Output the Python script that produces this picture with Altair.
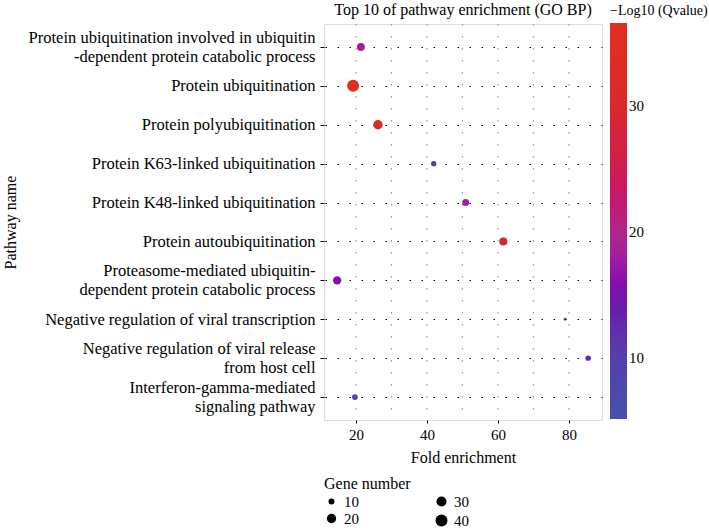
import altair as alt
import pandas as pd

pathways = [
    "Protein ubiquitination involved in ubiquitin|-dependent protein catabolic process",
    "Protein ubiquitination",
    "Protein polyubiquitination",
    "Protein K63-linked ubiquitination",
    "Protein K48-linked ubiquitination",
    "Protein autoubiquitination",
    "Proteasome-mediated ubiquitin-|dependent protein catabolic process",
    "Negative regulation of viral transcription",
    "Negative regulation of viral release|from host cell",
    "Interferon-gamma-mediated|signaling pathway",
]
fold = [21.4, 19.2, 26.2, 41.9, 50.9, 61.5, 14.7, 78.9, 85.4, 19.7]
qval = [18, 36, 33, 11, 18.5, 29, 16, 10, 12.5, 8]
genes = [20, 40, 27, 12, 17, 21, 22, 7, 12, 13]
grid_x = [20, 30, 40, 50, 60, 70, 80]
x_ticks = [20, 40, 60, 80]
color_ticks = [10, 20, 30]
size_ticks_a = [10, 20]
size_ticks_b = [30, 40]

FONT = "Liberation Serif"

df = pd.DataFrame({"pathway": pathways, "fold": fold, "q": qval, "genes": genes})
gdf = pd.DataFrame({"g": grid_x})

xscale = alt.Scale(domain=[11, 89.3], nice=False, zero=False)
xaxis = alt.Axis(values=x_ticks, grid=False, domain=False, tickSize=3,
                 tickColor="black", labelFontSize=15, labelFont=FONT,
                 labelColor="black", labelPadding=4, titleFont=FONT,
                 titleFontSize=16, titleFontWeight="normal", titleColor="black",
                 titlePadding=7)
yaxis = alt.Axis(labelExpr="split(datum.label, '|')", labelLineHeight=19,
                 labelOffset=alt.condition("indexof(datum.value, '|') >= 0",
                                           alt.value(-9.5), alt.value(0)),
                 labelFontSize=16.5, labelFont=FONT, labelColor="black",
                 labelLimit=400, labelPadding=5, tickSize=4, tickColor="black",
                 domain=False, grid=True, gridColor="black",
                 gridDash=[1.5, 10.5], gridDashOffset=11, gridWidth=1.2,
                 titleFont=FONT, titleFontSize=16, titleFontWeight="normal",
                 titleColor="black", titleX=-314, titleY=198, titleAngle=270,
                 titleAlign="center", titleBaseline="middle")
size_scale = alt.Scale(domain=[5, 40], range=[0, 143], zero=False)


def size_legend(values, title, x, y):
    kw = dict(orient="none", legendX=x, legendY=y, values=values, rowPadding=1,
              symbolFillColor="black", symbolStrokeColor="black",
              symbolOpacity=1, symbolType="circle", labelFont=FONT,
              labelFontSize=15, labelColor="black", labelOffset=5)
    if title:
        kw.update(titleFont=FONT, titleFontSize=16, titleFontWeight="normal",
                  titleColor="black", titlePadding=2)
    return alt.Legend(**kw)


grid = alt.Chart(gdf).mark_rule(color="#9a9a9a", strokeDash=[1.5, 10.5], strokeWidth=1.2).encode(
    x=alt.X("g:Q", scale=xscale, axis=xaxis, title="Fold enrichment")
)

points = alt.Chart(df).mark_circle(opacity=1).encode(
    x=alt.X("fold:Q", scale=xscale, title="Fold enrichment", axis=xaxis),
    y=alt.Y("pathway:N", sort=pathways, title="Pathway name",
            scale=alt.Scale(type="point", padding=0.59), axis=yaxis),
    color=alt.Color("q:Q", title="\u2212Log10 (Qvalue)",
                    scale=alt.Scale(domain=[5.2, 10, 14.8, 17.5, 20, 25, 30, 36.6],
                                    range=["#4552A8", "#5540AC", "#7008A8", "#9C1CA8",
                                           "#B2268A", "#CB2050", "#D82A2C", "#E1301E"]),
                    legend=alt.Legend(orient="none", legendX=286, legendY=-20,
                                      values=color_ticks, gradientLength=396,
                                      gradientThickness=17, titleFont=FONT,
                                      titleFontSize=14, titleFontWeight="normal",
                                      titleColor="black", titlePadding=5,
                                      labelFont=FONT, labelFontSize=15,
                                      labelColor="black", titleLimit=200)),
    size=alt.Size("genes:Q", title="Gene number", scale=size_scale,
                  legend=size_legend(size_ticks_a, True, 0, 452)),
)

points_b = alt.Chart(df).mark_circle(opacity=0, color="black").encode(
    x=alt.X("fold:Q", scale=xscale, title="Fold enrichment", axis=xaxis),
    y=alt.Y("pathway:N", sort=pathways, title="Pathway name",
            scale=alt.Scale(type="point", padding=0.59), axis=yaxis),
    size=alt.Size("genes:Q", title=None, scale=size_scale,
                  legend=size_legend(size_ticks_b, False, 110, 470)),
)

chart = alt.layer(grid, points, points_b).resolve_legend(size="independent").properties(
    width=278, height=396,
    title=alt.Title("Top 10 of pathway enrichment (GO BP)", font=FONT, fontSize=16,
                    fontWeight="normal", color="black", anchor="middle", frame="group",
                    offset=5, dy=19),
    autosize=alt.AutoSizeParams(type="none"),
    padding={"left": 324, "top": 24, "right": 107, "bottom": 111},
).configure_view(stroke="black", strokeWidth=1.2).configure(background="white")

chart.save("out.html", embed_options={"renderer": "svg", "actions": False})
